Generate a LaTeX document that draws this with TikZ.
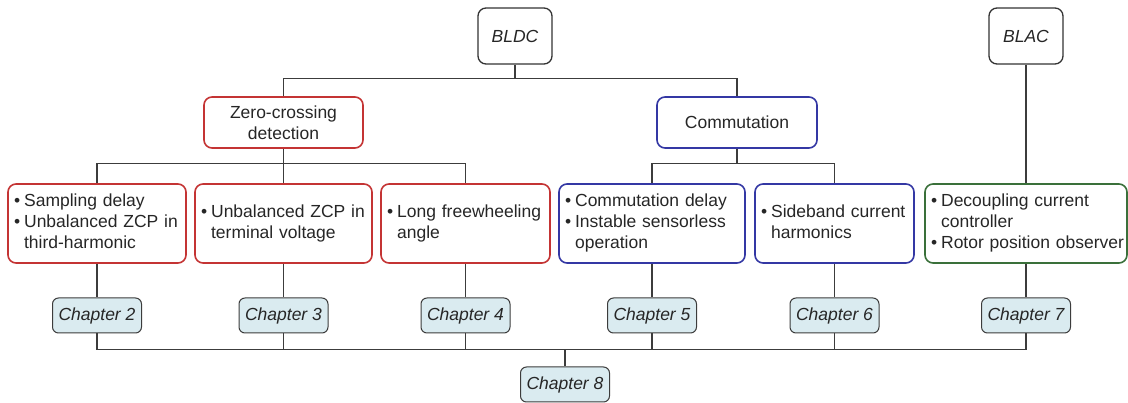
\documentclass[tikz,border=0pt]{standalone}
\usepackage{fontspec}
\setmainfont{Liberation Sans}
\definecolor{zred}{RGB}{196,52,52}
\definecolor{cblue}{RGB}{52,56,164}
\definecolor{dgreen}{RGB}{58,112,58}
\definecolor{wire}{RGB}{60,60,60}
\definecolor{chapfill}{RGB}{218,235,240}
\newcommand{\blist}[1]{\begin{tabular}{@{}l@{\hspace{4pt}}l@{}}#1\end{tabular}}

\begin{document}
\begin{tikzpicture}[x=1pt,y=-1pt,
  line width=1.3pt, draw=wire,
  every node/.style={font=\fontsize{17.5}{21}\selectfont, text=black!85},
  head/.style={draw=black!80, line width=1.3pt, rounded corners=8pt, minimum width=74pt, minimum height=56pt, font=\fontsize{17.5}{21}\selectfont\itshape},
  mid/.style={line width=1.6pt, rounded corners=8pt, minimum width=159pt, minimum height=51pt, align=center, inner sep=2pt},
  leaf/.style={line width=1.6pt, rounded corners=8pt, minimum height=79pt, inner sep=6pt, align=left},
  chap/.style={draw=wire, line width=1pt, fill=chapfill, rounded corners=6pt, minimum width=89pt, minimum height=35pt, inner sep=2pt, font=\fontsize{17.5}{21}\selectfont\itshape}]
  \def\rowa {36}
  \def\rowb {122.5}
  \def\rowc {223.5}
  \def\rowd {315.5}

  \useasboundingbox (0,0) rectangle (1128,403);

  \node[head] (bldc) at (515,\rowa) {BLDC};
  \node[head] (blac) at (1026,\rowa) {BLAC};

  \node[mid, draw=zred] (zcd) at (283.5,\rowb) {Zero-crossing\\detection};
  \node[mid, draw=cblue, minimum width=160pt] (com) at (737,\rowb) {Commutation};

  \node[leaf, draw=zred, text width=166pt] (sd) at (97,\rowc)
    {\blist{\textbullet & Sampling delay\\ \textbullet & Unbalanced ZCP in\\ & third-harmonic}};
  \node[leaf, draw=zred, text width=165pt] (ut) at (283.5,\rowc)
    {\blist{\textbullet & Unbalanced ZCP in\\ & terminal voltage}};
  \node[leaf, draw=zred, text width=157pt] (lf) at (465.5,\rowc)
    {\blist{\textbullet & Long freewheeling\\ & angle}};
  \node[leaf, draw=cblue, text width=174pt] (cd) at (652,\rowc)
    {\blist{\textbullet & Commutation delay\\ \textbullet & Instable sensorless\\ & operation}};
  \node[leaf, draw=cblue, text width=147pt] (sb) at (834.5,\rowc)
    {\blist{\textbullet & Sideband current\\ & harmonics}};
  \node[leaf, draw=dgreen, text width=190pt] (dc) at (1026,\rowc)
    {\blist{\textbullet & Decoupling current\\ & controller\\ \textbullet & Rotor position observer}};

  \node[chap] (c2) at (97,\rowd) {Chapter 2};
  \node[chap] (c3) at (283.5,\rowd) {Chapter 3};
  \node[chap] (c4) at (465.5,\rowd) {Chapter 4};
  \node[chap] (c5) at (652,\rowd) {Chapter 5};
  \node[chap] (c6) at (834.5,\rowd) {Chapter 6};
  \node[chap] (c7) at (1026,\rowd) {Chapter 7};
  \node[chap] (c8) at (565,384.5) {Chapter 8};

  % tree connectors
  \draw (bldc.south) -- ++(0,14) coordinate (jtop);
  \draw (zcd.north) |- (jtop) -| (com.north);
  \draw (blac) -- (dc);

  \draw (zcd.south) -- ++(0,15) coordinate (jz);
  \draw (sd.north) |- (jz) -| (lf.north);
  \draw (jz) -- (ut.north);

  \draw (com.south) -- ++(0,15) coordinate (jc);
  \draw (cd.north) |- (jc) -| (sb.north);

  \foreach \b/\c in {sd/c2,ut/c3,lf/c4,cd/c5,sb/c6,dc/c7}
    \draw (\b) -- (\c);

  \draw (c8.north) -- ++(0,-17) coordinate (jb);
  \draw (c2.south) |- (jb) -| (c7.south);
  \foreach \c in {c3,c4,c5,c6}
    \draw (\c.south) -- (\c.south |- jb);

\end{tikzpicture}
\end{document}
